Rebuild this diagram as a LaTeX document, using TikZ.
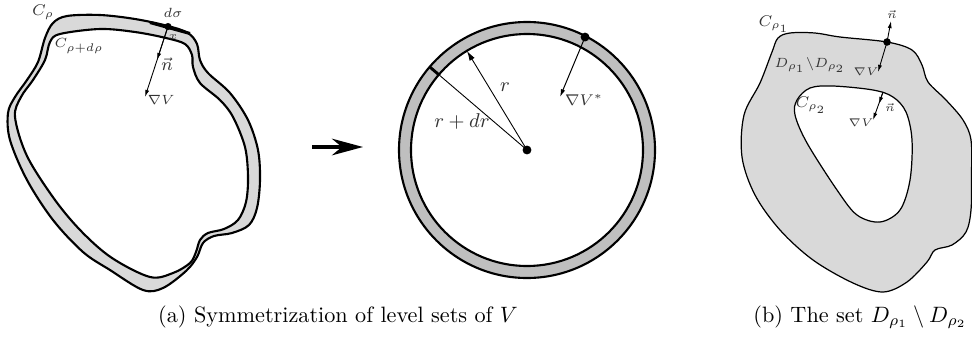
\documentclass[tikz,border=0pt]{standalone}
\usetikzlibrary{arrows.meta,calc}
\definecolor{lgray}{HTML}{D9D9D9}
\definecolor{mgray}{HTML}{BFBFBF}
\begin{document}
\begin{tikzpicture}[x=0.45pt,y=-0.45pt,
  lbl/.style={inner sep=0pt,text=black!80},
  curvethick/.style={line width=0.95pt,line join=round},
  curvethin/.style={line width=0.55pt,line join=round},
  thinarrow/.style={line width=0.4pt,-{Latex[length=3.2pt,width=1.8pt]}},
  bigarrow/.style={line width=1.4pt,-{Stealth[length=14pt,width=7.5pt,inset=4.5pt]}},
  dotnode/.style={circle,fill=black,inner sep=0pt,minimum size=2.6pt}]
\useasboundingbox (0,0) rectangle (972,339);

% ---------- left figure ----------
\filldraw[fill=lgray,curvethick] plot[smooth cycle,tension=0.55] coordinates {
 (67,16) (100,15) (135,19) (168,26) (188,33) (197,44) (200,60) (208,73) (230,93)
 (248,120) (258,150) (260,180) (257,208) (249,225) (232,233) (214,236) (203,243)
 (197,257) (186,271) (163,288) (143,290) (110,270) (83,252) (53,220) (27,180)
 (10,140) (8,113) (15,97) (27,80) (38,62) (45,38) (53,23)};
\filldraw[fill=white,curvethick] plot[smooth cycle,tension=0.55] coordinates {
 (60,34) (100,29) (135,32) (166,38) (185,44) (192,55) (193,67) (200,83) (220,100)
 (233,117) (245,147) (248,177) (246,202) (238,220) (224,229) (208,233) (200,240)
 (196,252) (190,263) (173,273) (150,277) (112,258) (82,232) (55,200) (27,156)
 (15,117) (21,97) (33,80) (45,60) (50,42)};
\coordinate (ds1) at (150,22.5);
\coordinate (ds2) at (190,33.5);
\draw[line width=1.4pt] (ds1) -- (ds2);
\node[dotnode,minimum size=3.2pt] (xdot) at (168,26.5) {};
\coordinate (ntip) at (157,60);
\coordinate (gtip) at (145,97);
\draw[thinarrow] (xdot.center) -- (ntip);
\draw[thinarrow] (xdot.center) -- (gtip);
\node[lbl,font=\fontsize{7}{8}\selectfont] (lCr) at (43,12) {$C_\rho$};
\node[lbl,font=\fontsize{6.5}{8}\selectfont] (lCrd) at (79,46) {$C_{\rho+d\rho}$};
\node[lbl,font=\fontsize{6.5}{8}\selectfont] (lds) at (173,13) {$d\sigma$};
\node[lbl,font=\fontsize{5}{6}\selectfont] (lx) at (173,37) {$x$};
\node[lbl,font=\fontsize{8}{9}\selectfont] (ln) at (167,64) {$\vec{n}$};
\node[lbl,font=\fontsize{6.5}{8}\selectfont] (lg) at (161,100) {$\nabla V$};

% ---------- middle arrow ----------
\coordinate (ma1) at (312,147);
\coordinate (ma2) at (363,147);
\draw[bigarrow] (ma1) -- (ma2);

% ---------- circle ----------
\coordinate (c) at (527,150);
\filldraw[fill=mgray,line width=0.95pt] (c) circle[radius=128];
\filldraw[fill=white,line width=0.95pt] (c) circle[radius=116];
\coordinate (rtip) at ($(c)+(-121.2:116)$);
\coordinate (rdrtip) at ($(c)+(-139.5:128)$);
\coordinate (rdrin) at ($(c)+(-139.5:115)$);
\draw[line width=1.3pt] (rdrin) -- (rdrtip);
\draw[line width=0.4pt,-{Latex[length=4.5pt,width=2.6pt]}] (c) -- (rtip);
\draw[line width=0.4pt] (c) -- (rdrin);
\node[dotnode,minimum size=4pt] (cdot) at (c) {};
\node[dotnode,minimum size=4pt] (sdot) at ($(c)+(-62.8:127)$) {};
\coordinate (vstip) at (560,97);
\draw[line width=0.45pt,-{Latex[length=3.5pt,width=2pt]}] (sdot.center) -- (vstip);
\node[lbl,font=\fontsize{9}{10}\selectfont] (lr) at (505,87) {$r$};
\node[lbl,font=\fontsize{9}{10}\selectfont] (lrdr) at (462,121) {$r+dr$};
\node[lbl,font=\fontsize{7.5}{9}\selectfont] (lvs) at (584,100) {$\nabla V^{*}$};

% ---------- right figure ----------
\filldraw[fill=lgray,curvethin] plot[smooth cycle,tension=0.55] coordinates {
 (790,33) (815,33) (840,37) (887,42) (912,50) (922,65) (928,82) (946,100) (963,120)
 (971,140) (971.5,175) (971,210) (966,232) (952,245) (935,250) (927,262) (907,282)
 (883,292) (853,283) (813,260) (780,230) (755,195) (742,157) (744,115) (760,83) (772,52) (778,38)};
\filldraw[fill=white,curvethin] plot[smooth cycle,tension=0.55] coordinates {
 (797,100) (810,88) (833,86) (873,90) (893,97) (906,112) (912,140) (910,180)
 (900,210) (880,222) (857,215) (837,190) (807,143) (795,115)};
\node[dotnode,minimum size=3.4pt] (pdot) at (887,42) {};
\coordinate (nup) at (891,21);
\coordinate (gdn) at (878,72);
\coordinate (q) at (883,92);
\coordinate (nin) at (879,104);
\coordinate (gin) at (873,120);
\draw[thinarrow] (pdot.center) -- (nup);
\draw[thinarrow] (pdot.center) -- (gdn);
\draw[thinarrow] (q) -- (nin);
\draw[thinarrow] (q) -- (gin);
\node[lbl,font=\fontsize{7}{8}\selectfont] (lC1) at (774,24) {$C_{\rho_1}$};
\node[lbl,font=\fontsize{6.5}{8}\selectfont] (lD) at (810,65) {$D_{\rho_1}\backslash D_{\rho_2}$};
\node[lbl,font=\fontsize{7}{8}\selectfont] (lC2) at (811,105) {$C_{\rho_2}$};
\node[lbl,font=\fontsize{5.5}{6}\selectfont] (lnu) at (892,14) {$\vec{n}$};
\node[lbl,font=\fontsize{5.5}{6}\selectfont] (lgu) at (866,72) {$\nabla V$};
\node[lbl,font=\fontsize{5.5}{6}\selectfont] (lni) at (890,107) {$\vec{n}$};
\node[lbl,font=\fontsize{5.5}{6}\selectfont] (lgi) at (861,123) {$\nabla V$};

% ---------- captions ----------
\node[inner sep=0pt] (capa) at (338,317) {(a) Symmetrization of level sets of $V$};
\node[inner sep=0pt] (capb) at (860,317) {(b) The set $D_{\rho_1}\setminus D_{\rho_2}$};
\end{tikzpicture}
\end{document}
